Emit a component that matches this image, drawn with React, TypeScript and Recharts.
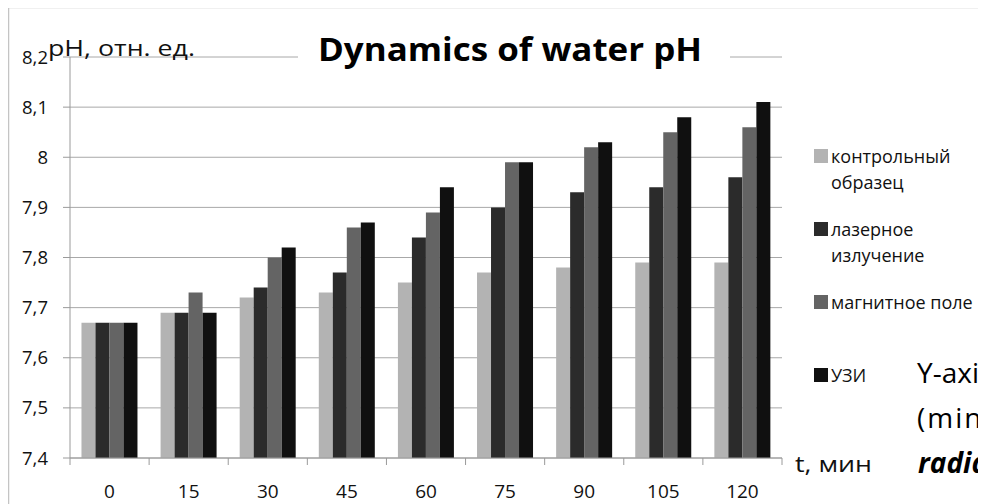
import React from 'react';
import { BarChart, Bar, XAxis, YAxis, CartesianGrid, Legend } from 'recharts';

// Exposure time, minutes
const times = ['0', '15', '30', '45', '60', '75', '90', '105', '120'];

// Water pH for each treatment
const controlSample = [7.67, 7.69, 7.72, 7.73, 7.75, 7.77, 7.78, 7.79, 7.79];
const laserRadiation = [7.67, 7.69, 7.74, 7.77, 7.84, 7.9, 7.93, 7.94, 7.96];
const magneticField = [7.67, 7.73, 7.8, 7.86, 7.89, 7.99, 8.02, 8.05, 8.06];
const ultrasound = [7.67, 7.69, 7.82, 7.87, 7.94, 7.99, 8.03, 8.08, 8.11];

const phTicks = [7.4, 7.5, 7.6, 7.7, 7.8, 7.9, 8.0, 8.1, 8.2];

const seriesNames = ['контрольный\nобразец', 'лазерное\nизлучение', 'магнитное поле', 'УЗИ'];
const seriesColors = ['#b3b3b3', '#2b2b2b', '#646464', '#101010'];

const data = times.map((t, i) => ({
  t,
  control: controlSample[i],
  laser: laserRadiation[i],
  magnetic: magneticField[i],
  us: ultrasound[i],
}));

const FONT = "'Open Sans', 'Noto Sans', sans-serif";
const W = 978;
const H = 497;
const TICK = 7;
const TICK_GAP = 18;
const AXIS_GREY = '#9a9a9a';

const formatPh = (v: number) => String(Math.round(v * 10) / 10).replace('.', ',');

// Category label centred in its band, tick marks on the band edges
const TimeTick = (props: any) => {
  const { x, y, payload, index, visibleTicksCount } = props;
  const half = payload && payload.offset ? payload.offset : 0;
  const axisY = y - TICK - TICK_GAP;
  const isLast = index === (visibleTicksCount ?? times.length) - 1;
  return (
    <g>
      <line x1={x - half} y1={axisY} x2={x - half} y2={axisY + TICK} stroke={AXIS_GREY} />
      {isLast && <line x1={x + half} y1={axisY} x2={x + half} y2={axisY + TICK} stroke={AXIS_GREY} />}
      <text x={x} y={y} dy={15} textAnchor="middle" fill="#111" fontSize={19} fontFamily={FONT}>
        {payload.value}
      </text>
    </g>
  );
};

const renderLegend = (props: any) => {
  const payload = props.payload || [];
  return (
    <div style={{ position: 'relative', width: 172, height: 300, fontFamily: FONT }}>
      {payload.map((entry: any, i: number) => (
        <div
          key={i}
          style={{ position: 'absolute', left: 0, top: i * 73, display: 'flex', alignItems: 'flex-start' }}
        >
          <span
            style={{
              display: 'inline-block',
              width: 14,
              height: 14,
              background: entry.color,
              marginTop: 6,
              marginRight: 3,
              flex: 'none',
            }}
          />
          <span style={{ whiteSpace: 'pre-line', lineHeight: '26px', fontSize: 18, color: '#111' }}>
            {entry.value}
          </span>
        </div>
      ))}
    </div>
  );
};

export default function App() {
  return (
    <div
      style={{
        position: 'relative',
        width: W,
        height: H,
        marginTop: -1,
        overflow: 'hidden',
        background: '#fff',
        fontFamily: FONT,
      }}
    >
      <BarChart
        width={W}
        height={H}
        data={data}
        margin={{ top: 50, right: 204, bottom: 0, left: 0 }}
        barCategoryGap="14.5%"
        barGap={0}
      >
        <CartesianGrid vertical={false} stroke="#a8a8a8" />
        <XAxis
          dataKey="t"
          height={46}
          axisLine={{ stroke: AXIS_GREY }}
          tickLine={false}
          tickSize={TICK}
          tickMargin={TICK_GAP}
          interval={0}
          tick={<TimeTick />}
        />
        <YAxis
          width={62}
          domain={[7.4, 8.2]}
          ticks={phTicks}
          interval={0}
          allowDataOverflow
          axisLine={{ stroke: AXIS_GREY }}
          tickLine={{ stroke: AXIS_GREY }}
          tickSize={TICK}
          tickMargin={15}
          tickFormatter={formatPh}
          tick={{ fill: '#111', fontSize: 18.5, fontFamily: FONT }}
        />
        <Legend
          layout="vertical"
          align="center"
          verticalAlign="middle"
          itemSorter={null}
          content={renderLegend}
          wrapperStyle={{ left: 806, top: 136, width: 172, height: 300 }}
        />
        <Bar dataKey="control" name={seriesNames[0]} fill={seriesColors[0]} isAnimationActive={false} />
        <Bar dataKey="laser" name={seriesNames[1]} fill={seriesColors[1]} isAnimationActive={false} />
        <Bar dataKey="magnetic" name={seriesNames[2]} fill={seriesColors[2]} isAnimationActive={false} />
        <Bar dataKey="us" name={seriesNames[3]} fill={seriesColors[3]} isAnimationActive={false} />
      </BarChart>

      <svg
        width={W}
        height={H}
        style={{ position: 'absolute', left: 0, top: 0, pointerEvents: 'none' }}
        fontFamily={FONT}
      >
        <line x1={0.5} y1={0.5} x2={W} y2={0.5} stroke="#c4c4c4" strokeWidth={1.5} />
        <line x1={0.5} y1={0.5} x2={0.5} y2={H} stroke="#c4c4c4" strokeWidth={1.5} />

        <rect x={290} y={26} width={432} height={48} fill="#fff" />
        <text x={310} y={54} fontSize={32} fontWeight={700} fill="#000" textLength={384} lengthAdjust="spacingAndGlyphs">
          Dynamics of water pH
        </text>

        <text x={40} y={49} fontSize={22} fill="#111" textLength={147} lengthAdjust="spacingAndGlyphs">
          pH, отн. ед.
        </text>
        <text x={787} y={465} fontSize={21} fill="#111" textLength={77} lengthAdjust="spacingAndGlyphs">
          t, мин
        </text>

        <text x={909} y={376} fontSize={28} fill="#000">Y-axis</text>
        <text x={909} y={421} fontSize={28} fill="#000" letterSpacing={2}>(min)</text>
        <text x={910} y={466} fontSize={28} fontWeight={700} fontStyle="italic" fill="#000">radiation</text>
      </svg>
    </div>
  );
}
